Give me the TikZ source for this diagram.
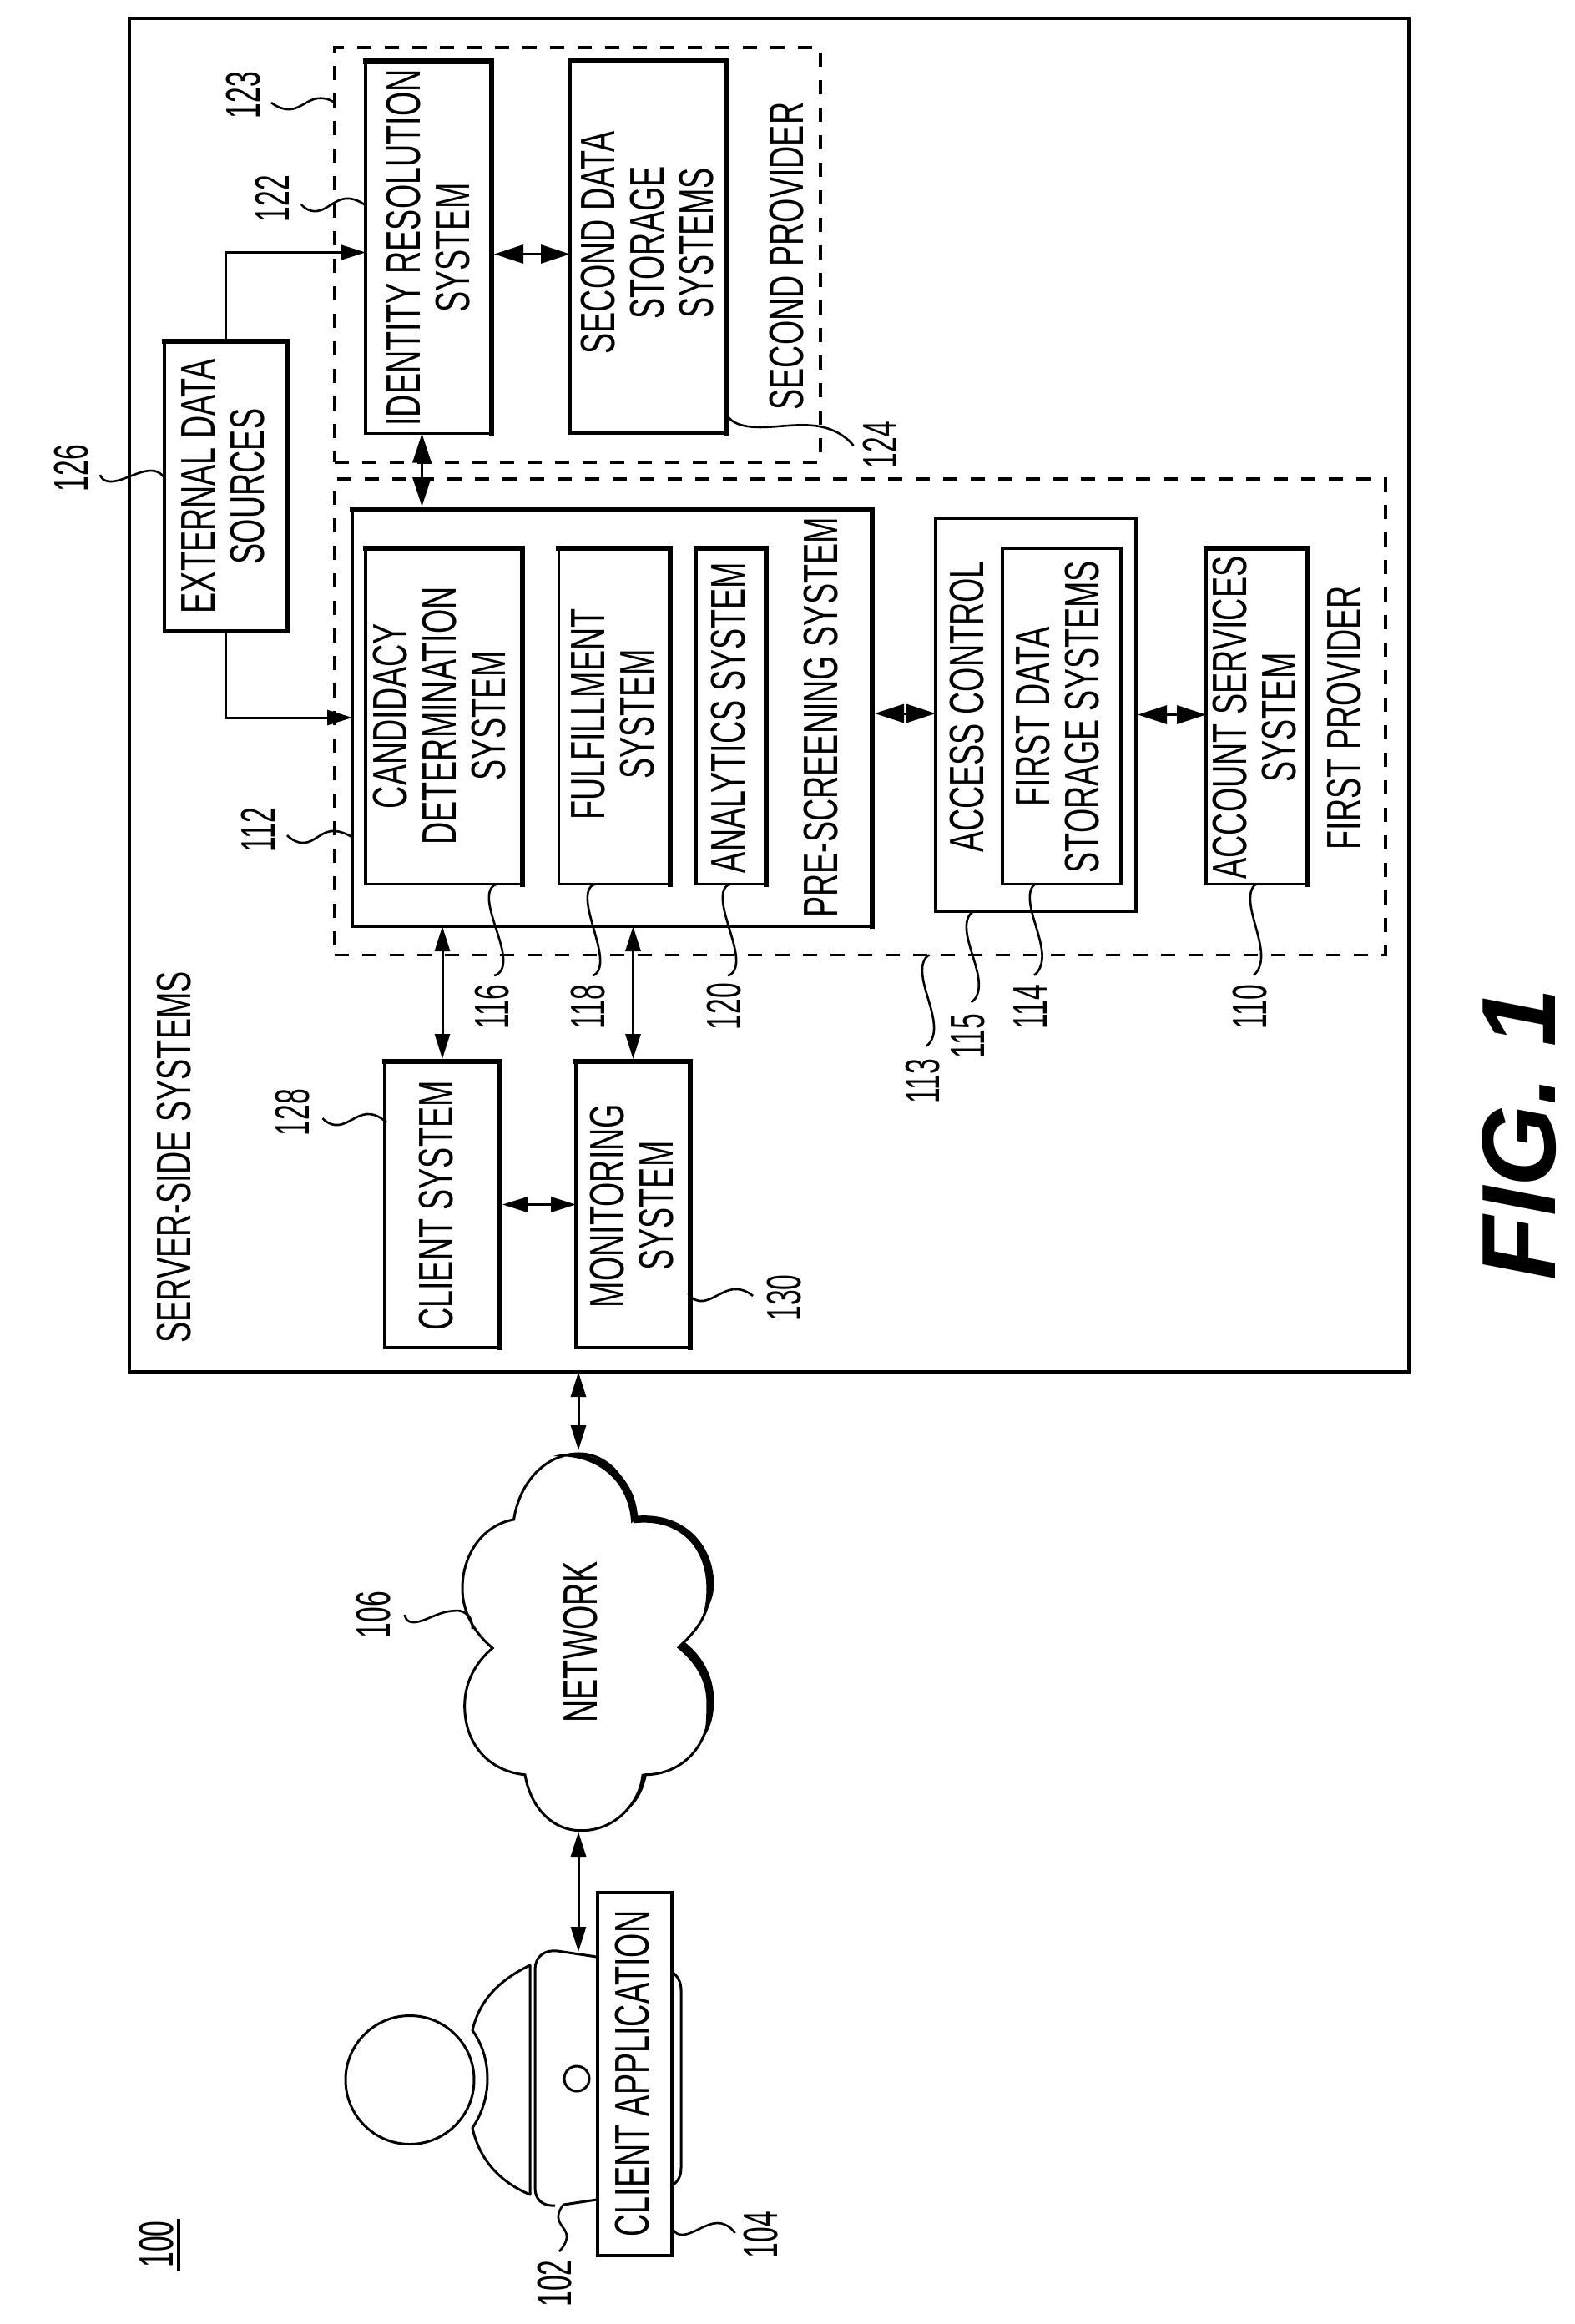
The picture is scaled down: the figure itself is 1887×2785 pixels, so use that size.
\documentclass[tikz,border=0pt]{standalone}
\usepackage{fontspec}
\usetikzlibrary{arrows.meta,fit,calc}
\setmainfont[FakeStretch=0.65]{Liberation Sans}
\newfontfamily\numfont[FakeStretch=0.58]{Liberation Sans}
\newfontfamily\figfont[BoldItalicFont={Liberation Sans Bold Italic}]{Liberation Sans}
\tikzset{
  box/.style={draw,line width=3.5pt,inner sep=0pt,outer sep=0pt},
  shad/.style={line width=6.5pt,line cap=rect},
  heavy/.style={draw,line width=4.5pt,inner sep=0pt,outer sep=0pt},
  dashbox/.style={draw,line width=3.5pt,dash pattern=on 17pt off 16pt,inner sep=0pt,outer sep=0pt},
  lbl/.style={rotate=90,align=center,inner sep=0pt,font=\fontsize{58}{59}\selectfont},
  refn/.style={rotate=90,inner sep=0pt,font=\numfont\fontsize{58}{59}\selectfont},
  lead/.style={line width=2.6pt},
  arr/.style={line width=3pt,{Triangle[length=30pt,width=18pt]}-{Triangle[length=30pt,width=18pt]}},
  arrb/.style={line width=3pt,{Triangle[length=35pt,width=22pt]}-{Triangle[length=35pt,width=22pt]}},
  arro/.style={line width=3pt,-{Triangle[length=30pt,width=18pt]}},
  outl/.style={line width=3pt,line join=round}
}
\begin{document}
\begin{tikzpicture}[x=1pt,y=-1pt]
\useasboundingbox (0,0) rectangle (1887,2785);
% containers
\node[box,fit={(155,22)(1688,1644)}] (srv) {};
\node[dashbox,fit={(401,57)(983,554)}] (spv) {};
\node[dashbox,fit={(401,574)(1660,1144.5)}] (fpv) {};
% boxes
\node[box,fit={(438,73.5)(589,519.5)}] (idr) {};
\node[box,fit={(683,73)(870,519)}] (sds) {};
\node[box,fit={(197,409)(344,756)}] (ext) {};
\node[box,fit={(422,610)(1045,1110)}] (pre) {};
\node[box,fit={(438,657)(626,1059.5)}] (can) {};
\node[box,fit={(669.5,657)(803,1059.5)}] (ful) {};
\node[box,fit={(834,657)(918,1059.5)}] (ana) {};
\node[heavy,fit={(1121,621)(1361,1092)}] (acc) {};
\node[box,fit={(1201,657)(1343,1059.5)}] (fds) {};
\node[box,fit={(1445,657)(1567,1059.5)}] (act) {};
\node[box,fit={(461,1272)(599,1615)}] (cli) {};
\node[box,fit={(690,1272)(827,1615)}] (mon) {};
% heavy edges
\foreach \n in {idr,sds,ext,pre,can,ful,ana,act,cli,mon}
  \draw[shad] (\n.north west) -| (\n.south east);
\draw[shad,line width=4.5pt] (fds.north west) -- (fds.north east);
% texts
\node[lbl] (t-srv) at (209,1387) {SERVER-SIDE SYSTEMS};
\node[lbl] (t-ext) at (267,583) {EXTERNAL DATA\\SOURCES};
\node[lbl] (t-idr) at (513,297) {IDENTITY RESOLUTION\\SYSTEM};
\node[lbl] (t-sds) at (776,291) {SECOND DATA\\STORAGE\\SYSTEMS};
\node[lbl] (t-spv) at (943,307) {SECOND PROVIDER};
\node[lbl] (t-can) at (527,858) {CANDIDACY\\DETERMINATION\\SYSTEM};
\node[lbl] (t-ful) at (734,856) {FULFILLMENT\\SYSTEM};
\node[lbl] (t-ana) at (873,860) {ANALYTICS SYSTEM};
\node[lbl] (t-pre) at (984,860) {PRE-SCREENING SYSTEM};
\node[lbl] (t-acc) at (1159,847) {ACCESS CONTROL};
\node[lbl] (t-fds) at (1267.5,859) {FIRST DATA\\STORAGE SYSTEMS};
\node[lbl] (t-act) at (1503.5,860) {ACCOUNT SERVICES\\SYSTEM};
\node[lbl] (t-fpv) at (1611,860) {FIRST PROVIDER};
\node[lbl] (t-cli) at (523,1445) {CLIENT SYSTEM};
\node[lbl] (t-mon) at (757,1445) {MONITORING\\SYSTEM};
% cloud
\begin{scope}[shift={(350,1600)},x=0.4464pt,y=-0.4464pt]
\draw[line width=3pt,line join=miter] (595,495)
  .. controls (610,395) and (680,318) .. (770,318)
  .. controls (850,318) and (915,395) .. (915,495)
  .. controls (1040,480) and (1122,565) .. (1122,670)
  .. controls (1122,745) and (1090,790) .. (1040,835)
  .. controls (1090,870) and (1122,925) .. (1122,985)
  .. controls (1122,1100) and (1050,1180) .. (945,1180)
  .. controls (925,1270) and (860,1330) .. (775,1330)
  .. controls (700,1330) and (640,1270) .. (625,1180)
  .. controls (525,1170) and (463,1095) .. (463,995)
  .. controls (463,935) and (490,880) .. (538,840)
  .. controls (490,800) and (457,745) .. (457,680)
  .. controls (457,590) and (510,510) .. (595,495) -- cycle;
\fill (700,325) .. controls (800,295) and (920,360) .. (928,490) -- (910,505)
  .. controls (905,400) and (830,320) .. (700,325) -- cycle;
\fill (915,505) .. controls (1040,490) and (1112,570) .. (1112,680)
  .. controls (1112,720) and (1105,750) .. (1095,770)
  .. controls (1120,730) and (1132,700) .. (1132,670)
  .. controls (1132,560) and (1050,475) .. (925,485) -- cycle;
\fill (1055,825) .. controls (1105,865) and (1132,920) .. (1132,980)
  .. controls (1132,1020) and (1125,1050) .. (1105,1080)
  .. controls (1112,1050) and (1112,1010) .. (1112,985)
  .. controls (1112,930) and (1085,880) .. (1032,838) -- cycle;
\fill (952,1180) .. controls (945,1215) and (930,1250) .. (905,1270)
  .. controls (920,1245) and (935,1210) .. (938,1178) -- cycle;
\end{scope}
\coordinate (cloudtop) at (693,1738);
\coordinate (cloudbot) at (693,2195);
\node[lbl] (t-net) at (696,1968) {NETWORK};
% person and device
\node[draw,circle,line width=3pt,minimum size=154pt,inner sep=0pt,outer sep=0pt] (head) at (491,2492.5) {};
\draw[outl] (635,2355) .. controls (600,2372) and (575,2395) .. (566,2433)
  .. controls (578,2450) and (584,2470) .. (584,2491)
  .. controls (584,2512) and (578,2532) .. (566,2550)
  .. controls (575,2590) and (600,2615) .. (635,2630) -- cycle;
\draw[outl] (715,2345) -- (668,2338) .. controls (652,2336) and (641,2345) .. (641,2360)
  -- (641,2622) .. controls (641,2636) and (650,2644) .. (665,2643);
\draw[outl] (675,2642) -- (715,2636);
\draw[outl] (805,2363) .. controls (812,2368) and (816,2375) .. (816,2385) -- (816,2598)
  .. controls (816,2608) and (812,2615) .. (805,2619);
\node[draw,circle,line width=3pt,minimum size=30pt,inner sep=0pt] (cam) at (691,2491) {};
\coordinate (devtop) at (693,2339);
\node[box,fill=white,fit={(716,2268)(805,2703)}] (app) {};
\node[lbl] (t-app) at (758,2485) {CLIENT APPLICATION};
% connectors
\draw[arro] (ext.north) |- ([yshift=-6pt]idr.west);
\draw[arro] (ext.south) |- (pre.west);
\draw[arrb] ([yshift=-8pt,xshift=3pt]idr.east) -- ([yshift=-8pt]idr.east -| sds.west);
\draw[arrb] ([xshift=-8pt]idr.south) -- ([xshift=-8pt,yshift=3pt]idr.south |- pre.north);
\draw[arrb] ([yshift=5pt,xshift=3pt]pre.east) -- ([yshift=5pt]pre.east -| acc.west);
\draw[arrb] ([xshift=2pt]acc.east) -- (acc.east -| act.west);
\draw[arr] (cli.north |- pre.south) -- ([yshift=3pt]cli.north);
\draw[arr] (mon.north |- pre.south) -- ([yshift=3pt]mon.north);
\draw[arr] ([xshift=3pt]cli.east) -- (cli.east -| mon.west);
\draw[arr] (cloudtop |- srv.south) -- (cloudtop);
\draw[arr] (cloudbot) -- (devtop);
% reference numbers
\node[refn] (r123) at (291.5,114) {123};
\node[refn] (r122) at (326,238) {122};
\node[refn] (r124) at (1054,533) {124};
\node[refn] (r126) at (85.5,561) {126};
\node[refn] (r112) at (309.5,995) {112};
\node[refn] (r116) at (590,1207) {116};
\node[refn] (r118) at (705,1207) {118};
\node[refn] (r120) at (868,1206) {120};
\node[refn] (r128) at (351,1333) {128};
\node[refn] (r130) at (940,1555.5) {130};
\node[refn] (r113) at (1106,1295.5) {113};
\node[refn] (r115) at (1160,1242) {115};
\node[refn] (r114) at (1234.7,1207) {114};
\node[refn] (r110) at (1498,1207) {110};
\node[refn] (r106) at (448,1935) {106};
\node[refn] (r102) at (665,2736.5) {102};
\node[refn] (r104) at (912,2678) {104};
\node[refn] (r100) at (187.5,2689.5) {100};
\draw[line width=4pt] (214,2659) -- (214,2722);
% leaders
\draw[lead] plot[smooth,tension=.8] coordinates {(325,123)(348,131)(380,118)(401,123)};
\draw[lead] plot[smooth,tension=.8] coordinates {(361,245)(380,253)(414,238)(439,247)};
\draw[lead] plot[smooth,tension=.8] coordinates {(870,494)(896,511)(982,511)(1022.5,534)};
\draw[lead] plot[smooth,tension=.8] coordinates {(120,569)(135,577)(180,564)(198,575)};
\draw[lead] plot[smooth,tension=.8] coordinates {(344,1001)(365,1010)(397,996)(423,1004)};
\draw[lead] plot[smooth,tension=.8] coordinates {(595,1060)(586,1080)(603,1148)(592,1169)};
\draw[lead] plot[smooth,tension=.8] coordinates {(712.6,1060)(704,1080)(719,1148)(710,1169)};
\draw[lead] plot[smooth,tension=.8] coordinates {(874.5,1060)(866,1080)(882,1148)(872,1169)};
\draw[lead] plot[smooth,tension=.8] coordinates {(386.5,1340)(405.5,1348)(440,1335)(463,1345)};
\draw[lead] plot[smooth,tension=.8] coordinates {(824.5,1550)(842,1559)(879,1545)(902,1553)};
\draw[lead] plot[smooth,tension=.8] coordinates {(1113.6,1144.5)(1105,1166)(1119,1229)(1109.6,1253.5)};
\draw[lead] plot[smooth,tension=.8] coordinates {(1167,1092)(1158,1114)(1172.7,1177)(1163.5,1201)};
\draw[lead] plot[smooth,tension=.8] coordinates {(1241,1059.5)(1234,1080)(1248.5,1143)(1239,1168.6)};
\draw[lead] plot[smooth,tension=.8] coordinates {(1505.7,1059.5)(1498,1080)(1511,1143)(1502,1168.6)};
\draw[lead] plot[smooth,tension=.8] coordinates {(485,1935)(497,1944)(537.5,1931)(560,1935)(566,1952)};
\draw[lead] plot[smooth,tension=.8] coordinates {(675,2642)(669,2658)(679,2680)(670,2698)};
\draw[lead] plot[smooth,tension=.8] coordinates {(804.6,2666)(818,2678)(859,2664)(880.6,2676)};
% figure title
\node[rotate=90,inner sep=0pt,font=\figfont\bfseries\itshape\fontsize{126}{126}\selectfont] (fig) at (1820,1359) {FIG. 1};
\end{tikzpicture}
\end{document}
